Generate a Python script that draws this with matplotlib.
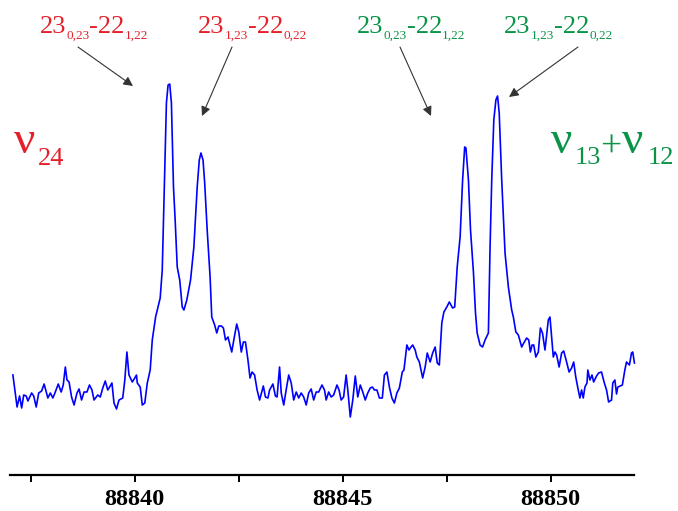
import matplotlib
matplotlib.use("Agg")
import matplotlib.pyplot as plt
from matplotlib.ticker import MultipleLocator

# spectrum: frequency (MHz) and intensity (arb. units)
freq = [88837.07, 88837.17, 88837.23, 88837.28, 88837.33, 88837.39, 88837.43, 88837.52, 88837.57, 88837.63,
        88837.69, 88837.76, 88837.82, 88837.91, 88837.97, 88838.03, 88838.08, 88838.16, 88838.23, 88838.28,
        88838.33, 88838.37, 88838.42, 88838.48, 88838.54, 88838.61, 88838.66, 88838.72, 88838.78, 88838.85,
        88838.91, 88838.97, 88839.02, 88839.11, 88839.17, 88839.23, 88839.29, 88839.35, 88839.38, 88839.45,
        88839.50, 88839.56, 88839.62, 88839.71, 88839.76, 88839.81, 88839.86, 88839.94, 88840.00, 88840.04,
        88840.06, 88840.13, 88840.18, 88840.24, 88840.30, 88840.37, 88840.42, 88840.50, 88840.58, 88840.61,
        88840.66, 88840.70, 88840.76, 88840.80, 88840.84, 88840.88, 88840.93, 88840.97, 88841.02, 88841.08,
        88841.14, 88841.18, 88841.25, 88841.34, 88841.42, 88841.50, 88841.55, 88841.59, 88841.64, 88841.68,
        88841.74, 88841.81, 88841.85, 88841.92, 88841.97, 88842.02, 88842.08, 88842.13, 88842.18, 88842.24,
        88842.33, 88842.38, 88842.45, 88842.50, 88842.56, 88842.61, 88842.66, 88842.72, 88842.77, 88842.82,
        88842.88, 88842.94, 88843.00, 88843.09, 88843.14, 88843.20, 88843.24, 88843.32, 88843.38, 88843.42,
        88843.48, 88843.52, 88843.58, 88843.65, 88843.70, 88843.76, 88843.82, 88843.88, 88843.94, 88844.00,
        88844.06, 88844.12, 88844.18, 88844.24, 88844.30, 88844.36, 88844.42, 88844.50, 88844.56, 88844.60,
        88844.66, 88844.72, 88844.78, 88844.86, 88844.91, 88844.96, 88845.02, 88845.08, 88845.12, 88845.18,
        88845.24, 88845.30, 88845.36, 88845.42, 88845.48, 88845.54, 88845.60, 88845.66, 88845.71, 88845.76,
        88845.82, 88845.88, 88845.95, 88846.00, 88846.06, 88846.12, 88846.18, 88846.24, 88846.30, 88846.36,
        88846.43, 88846.47, 88846.54, 88846.59, 88846.64, 88846.68, 88846.74, 88846.78, 88846.84, 88846.92,
        88846.98, 88847.03, 88847.10, 88847.16, 88847.22, 88847.27, 88847.32, 88847.38, 88847.43, 88847.50,
        88847.56, 88847.64, 88847.69, 88847.75, 88847.82, 88847.88, 88847.93, 88847.96, 88848.02, 88848.07,
        88848.14, 88848.19, 88848.23, 88848.30, 88848.36, 88848.42, 88848.50, 88848.54, 88848.58, 88848.63,
        88848.68, 88848.72, 88848.76, 88848.82, 88848.90, 88848.98, 88849.06, 88849.10, 88849.16, 88849.22,
        88849.30, 88849.35, 88849.42, 88849.47, 88849.51, 88849.55, 88849.59, 88849.64, 88849.70, 88849.75,
        88849.80, 88849.86, 88849.90, 88849.94, 88849.98, 88850.02, 88850.06, 88850.10, 88850.14, 88850.20,
        88850.26, 88850.31, 88850.38, 88850.44, 88850.50, 88850.55, 88850.60, 88850.66, 88850.70, 88850.74,
        88850.78, 88850.82, 88850.87, 88850.89, 88850.94, 88850.99, 88851.03, 88851.10, 88851.15, 88851.22,
        88851.28, 88851.34, 88851.39, 88851.46, 88851.49, 88851.54, 88851.58, 88851.61, 88851.67, 88851.72,
        88851.78, 88851.82, 88851.89, 88851.94, 88851.97, 88852.01]
intensity = [35, 3, 14, 2, 15, 14, 9, 17, 14, 3,
             17, 19, 26, 12, 17, 12, 17, 26, 18, 25,
             43, 30, 28, 13, 5, 17, 21, 10, 18, 18,
             25, 20, 10, 15, 13, 22, 29, 20, 22, 27,
             7, 1, 10, 12, 30, 58, 35, 28, 32, 35,
             27, 23, 5, 7, 27, 40, 70, 93, 107, 112,
             140, 207, 307, 325, 326, 307, 223, 190, 143, 130,
             103, 100, 110, 130, 163, 223, 250, 257, 250, 227,
             180, 133, 93, 85, 77, 84, 84, 82, 70, 73,
             58, 70, 86, 78, 58, 68, 68, 50, 32, 38,
             35, 20, 10, 24, 13, 12, 20, 26, 14, 13,
             43, 17, 5, 23, 35, 27, 10, 18, 12, 17,
             13, 5, 17, 21, 10, 18, 18, 25, 20, 10,
             18, 13, 15, 25, 20, 10, 13, 35, 20, -7,
             10, 34, 13, 25, 18, 10, 17, 22, 23, 20,
             20, 12, 12, 35, 38, 23, 12, 7, 17, 22,
             38, 40, 65, 60, 63, 65, 60, 53, 48, 32,
             43, 57, 48, 57, 63, 47, 45, 87, 98, 103,
             108, 102, 103, 143, 173, 230, 263, 262, 230, 180,
             138, 97, 77, 65, 63, 70, 77, 163, 230, 290,
             310, 314, 297, 230, 157, 123, 100, 93, 78, 75,
             63, 67, 72, 70, 58, 65, 65, 53, 58, 82,
             77, 60, 75, 90, 93, 73, 53, 58, 55, 43,
             57, 59, 48, 38, 42, 48, 33, 20, 12, 20,
             12, 23, 27, 40, 30, 35, 28, 34, 37, 38,
             28, 20, 8, 10, 27, 30, 16, 23, 24, 25,
             40, 48, 45, 57, 58, 47]

major_ticks = [88840, 88845, 88850]

RED = '#e4212b'
GREEN = '#0a9447'
W, H = 678, 511

fig = plt.figure(figsize=(W / 100, H / 100), dpi=100)
ax = fig.add_axes([10 / W, 36 / H, 624 / W, 475 / H])
ax.plot(freq, intensity, color='#0000ff', lw=1.2, clip_on=False)
ax.set_xlim(88837.0, 88852.0)
ax.set_ylim(-65, 410)

for s in ['top', 'left', 'right']:
    ax.spines[s].set_visible(False)
ax.spines['bottom'].set_linewidth(1.6)
ax.set_yticks([])
ax.set_xticks(major_ticks)
ax.xaxis.set_minor_locator(MultipleLocator(2.5))
ax.tick_params(axis='x', which='both', direction='out', length=5, width=1.4, pad=5)
for lab in ax.get_xticklabels():
    lab.set_fontfamily('Liberation Serif')
    lab.set_fontweight('bold')
    lab.set_fontsize(17.5)

renderer = fig.canvas.get_renderer()


def put(x, y, s, size, color):
    # x = left edge, y = baseline, both in pixels from the top-left corner
    return fig.text(x / W, (H - y) / H, s, fontsize=size, color=color,
                    family='Liberation Serif', va='baseline', ha='left')


def transition(x, a, b, c, d, color):
    # 23_{a}-22_{b} style rotational label, pieces laid out left to right
    for s, size, drop in [(a, 19, 0), (b, 9.5, 6), ('-' + c, 19, 0), (d, 9.5, 6)]:
        t = put(x, 33 + drop, s, size, color)
        x += t.get_window_extent(renderer=renderer).width


transition(40, '23', '0,23', '22', '1,22', RED)
transition(198, '23', '1,23', '22', '0,22', RED)
transition(357, '23', '0,23', '22', '1,22', GREEN)
transition(504, '23', '1,23', '22', '0,22', GREEN)

put(14, 153, '\u03bd', 34, RED)
put(38, 165, '24', 19, RED)
put(551, 153, '\u03bd', 34, GREEN)
put(575, 164, '13', 19, GREEN)
put(600, 157, '+', 27, GREEN)
put(622, 153, '\u03bd', 34, GREEN)
put(648, 164, '12', 19, GREEN)

arrows = [((78, 47), (133, 86)), ((232, 47), (202, 116)), ((400, 47), (431, 116)), ((578, 47), (509, 97))]
for (x0, y0), (x1, y1) in arrows:
    ax.annotate('', xy=(x1 / W, 1 - y1 / H), xycoords='figure fraction',
                xytext=(x0 / W, 1 - y0 / H), textcoords='figure fraction',
                arrowprops=dict(arrowstyle='-|>', color='#333333', lw=0.8,
                                mutation_scale=14, shrinkA=0, shrinkB=0))

fig.savefig('out.png', dpi=100)
